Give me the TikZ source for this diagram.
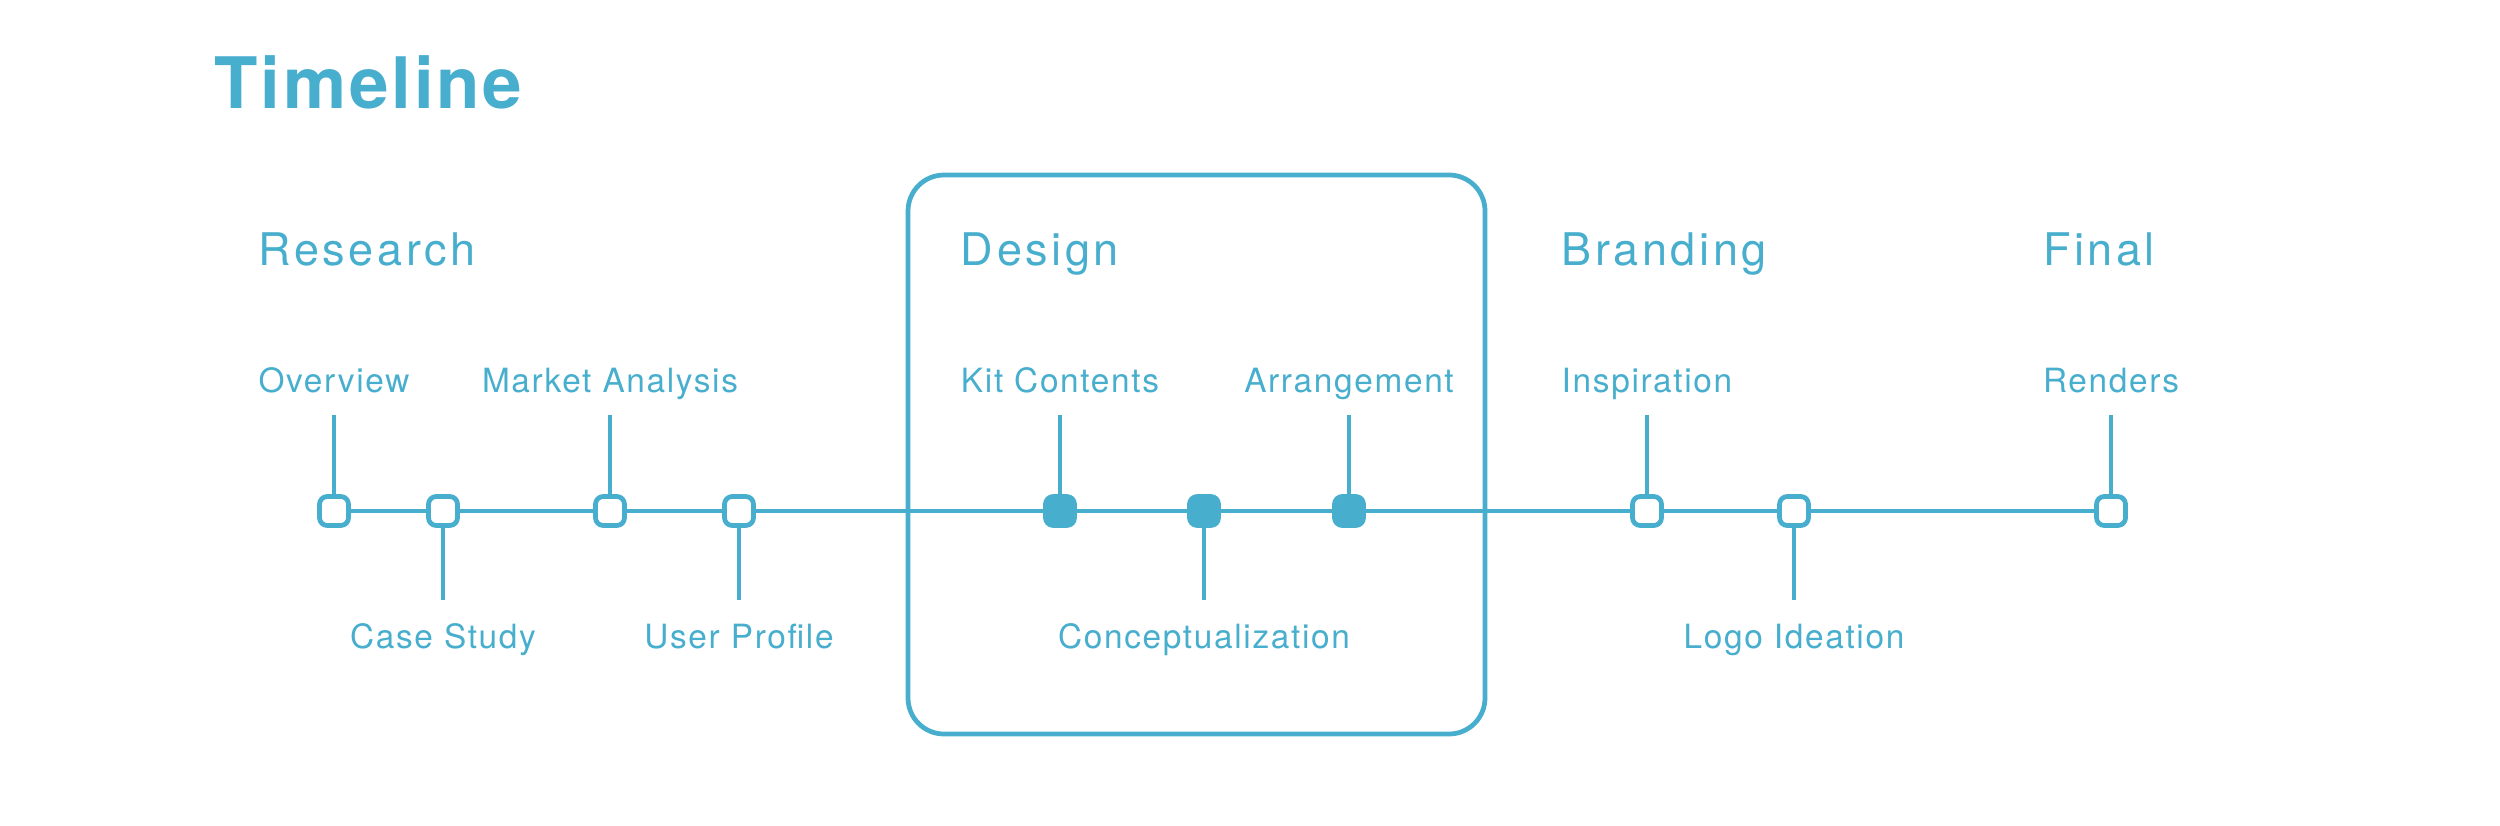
\documentclass[tikz,border=0pt]{standalone}
\usepackage{fontspec}
\setmainfont{TeX Gyre Heros}
\newfontfamily\titlefont[LetterSpace=4]{TeX Gyre Heros}
\newfontfamily\phasefont[LetterSpace=8]{TeX Gyre Heros}
\newfontfamily\stepfont[LetterSpace=5]{TeX Gyre Heros}
\usetikzlibrary{backgrounds}
\definecolor{tlblue}{RGB}{72,174,206}

\begin{document}
\begin{tikzpicture}[
  tlblue, line width=1.35pt,
  milestone/.style={draw=tlblue, fill=white, rounded corners=2.2pt, minimum size=0.29cm, inner sep=0pt},
  donestone/.style={milestone, fill=tlblue},
  axis/.style={draw=tlblue, line width=1.35pt},
  steplabel/.style={font=\stepfont\fontsize{9.5}{11}\selectfont, inner sep=0pt, text height=0.24cm, text depth=0pt, anchor=base},
  phaselabel/.style={font=\phasefont\fontsize{12.8}{15}\selectfont, inner sep=0pt, anchor=base west},
]
\useasboundingbox (0,0) rectangle (25,-8.26);
\node[font=\titlefont\bfseries\fontsize{20.2}{24}\selectfont, inner sep=0pt, anchor=base west] (title) at (2.12,-1.09) {Timeline};
% design phase box
\draw[rounded corners=0.36cm] (9.08,-1.75) rectangle (14.85,-7.34);
% milestones
\foreach \name/\x/\kind in {ov/3.34/milestone, cs/4.43/milestone, ma/6.10/milestone, up/7.39/milestone,
  kc/10.60/donestone, cp/12.04/donestone, ar/13.49/donestone,
  insp/16.47/milestone, li/17.94/milestone, re/21.11/milestone}
  \node[\kind] (\name) at (\x,-5.11) {};
\begin{scope}[on background layer]
\draw[axis] (ov) -- (re);
\end{scope}
% labels above the line
\foreach \name/\txt in {ov/Overview, ma/Market Analysis, kc/Kit Contents, ar/Arrangement, insp/Inspiration, re/Renders} {
  \node[steplabel] (\name-t) at ([yshift=1.19cm]\name) {\txt};
  \draw[shorten >=0.21cm] (\name.north) -- (\name-t.south);
}
% labels below the line
\foreach \name/\txt in {cs/Case Study, up/User Profile, cp/Conceptualization, li/Logo Ideation} {
  \node[steplabel] (\name-b) at ([yshift=-1.37cm]\name) {\txt};
  \draw[shorten >=0.22cm] (\name.south) -- (\name-b.north);
}
% phases
\node[phaselabel] (research) at ([yshift=1.27cm]ov-t.base west) {Research};
\node[phaselabel] (design) at ([yshift=1.27cm]kc-t.base west) {Design};
\node[phaselabel] (branding) at ([yshift=1.27cm]insp-t.base west) {Branding};
\node[phaselabel] (final) at ([yshift=1.27cm]re-t.base west) {Final};
\end{tikzpicture}
\end{document}
